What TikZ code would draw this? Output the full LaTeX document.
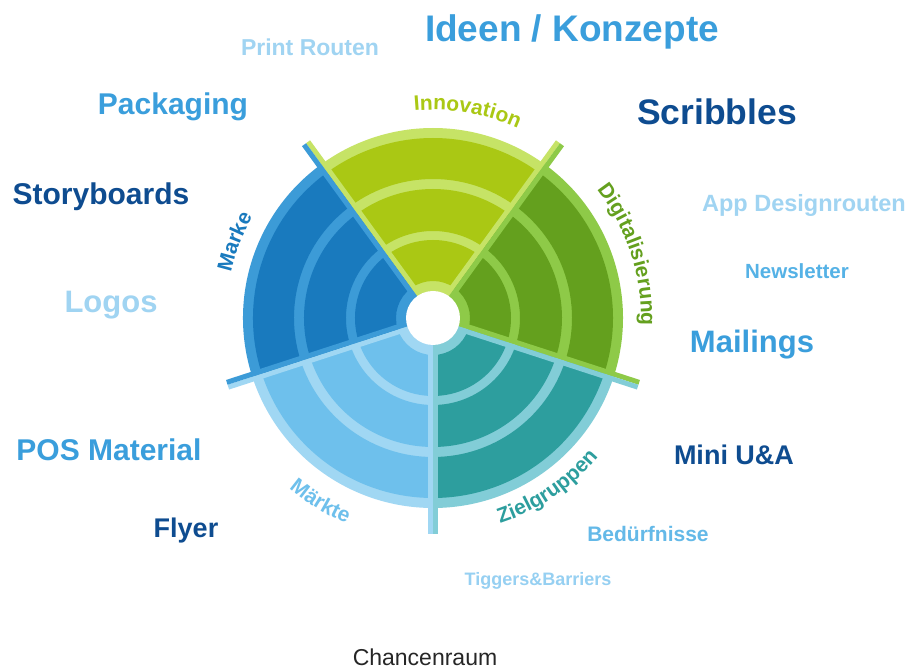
\documentclass[tikz,border=0pt]{standalone}
\usepackage{fontspec}
\setmainfont{Liberation Sans}
\usetikzlibrary{decorations.text}
\definecolor{innoD}{RGB}{170,200,20}
\definecolor{innoL}{RGB}{198,227,102}
\definecolor{digiD}{RGB}{100,160,30}
\definecolor{digiL}{RGB}{142,202,72}
\definecolor{zielD}{RGB}{45,158,158}
\definecolor{zielL}{RGB}{130,205,215}
\definecolor{maerD}{RGB}{110,192,236}
\definecolor{maerL}{RGB}{160,215,243}
\definecolor{markD}{RGB}{25,122,190}
\definecolor{markL}{RGB}{60,155,215}
\definecolor{tMid}{RGB}{58,158,220}
\definecolor{tDark}{RGB}{14,76,144}
\definecolor{tLight}{RGB}{160,212,242}
\definecolor{tNews}{RGB}{85,178,230}
\definecolor{tBed}{RGB}{100,185,232}
\definecolor{tTig}{RGB}{150,208,242}
\newcommand\sectorpie[4]{%
  \fill[#3] (0,0) -- (#1:190) arc[start angle=#1, end angle=#2, radius=190] -- cycle;
  \foreach \ri/\ro in {37/78, 87/129, 139/180}{%
    \fill[#4] (#1:\ri) arc[start angle=#1, end angle=#2, radius=\ri] -- (#2:\ro) arc[start angle=#2, end angle=#1, radius=\ro] -- cycle;
  }%
}
\newcommand\sectorstrips[3]{%
  \begin{scope}[rotate=#1]\fill[#3] (27,0) rectangle (216,5);\end{scope}%
  \begin{scope}[rotate=#2]\fill[#3] (27,-5) rectangle (216,0);\end{scope}%
}
\newcommand\fs[1]{\fontsize{#1}{#1}\selectfont}
\begin{document}
\begin{tikzpicture}[x=1pt,y=1pt,
  lbl/.style={anchor=base, inner sep=0pt, font=\bfseries},
  arclbl/.style={decoration={text along path, text align=center, text={#1}}, postaction={decorate}}]
\useasboundingbox (-433,-351) rectangle (478,318);
\fill[white] (-433,-351) rectangle (478,318);
% sectors
\sectorpie{54}{126}{innoL}{innoD}
\sectorpie{-18}{54}{digiL}{digiD}
\sectorpie{-90}{-18}{zielL}{zielD}
\sectorpie{198}{270}{maerL}{maerD}
\sectorpie{126}{198}{markL}{markD}
\sectorstrips{54}{126}{innoL}
\sectorstrips{-18}{54}{digiL}
\sectorstrips{-90}{-18}{zielL}
\sectorstrips{198}{270}{maerL}
\sectorstrips{126}{198}{markL}
\fill[white] (0,0) circle[radius=27];
% curved labels
\path[arclbl={|\fs{21}\bfseries\color{innoD}|Innovation}] (120.5:208) arc[start angle=120.5, end angle=40.5, radius=208];
\path[arclbl={|\fs{21}\bfseries\color{digiD}|Digitalisierung}] (58:208) arc[start angle=58, end angle=-22, radius=208];
\path[arclbl={|\fs{21}\bfseries\color{markD}|Marke}] (199:207) arc[start angle=199, end angle=119, radius=207];
\path[arclbl={|\fs{21}\bfseries\color{zielD}|Zielgruppen}] (-96:216) arc[start angle=-96, end angle=-16, radius=216];
\path[arclbl={|\fs{21}\bfseries\color{maerD}|Märkte}] (198.5:223) arc[start angle=198.5, end angle=278.5, radius=223];
% word labels
\node[lbl, text=tMid, font=\bfseries\fs{37}] (ideen) at (139,276) {Ideen / Konzepte};
\node[lbl, text=tLight, font=\bfseries\fs{23}] (print) at (-123,262) {Print Routen};
\node[lbl, text=tMid, font=\bfseries\fs{30}] (pack) at (-260,203) {Packaging};
\node[lbl, text=tDark, font=\bfseries\fs{30}] (story) at (-332,113) {Storyboards};
\node[lbl, text=tDark, font=\bfseries\fs{35.5}] (scrib) at (284,193) {Scribbles};
\node[lbl, text=tLight, font=\bfseries\fs{23.5}] (app) at (371,106) {App Designrouten};
\node[lbl, text=tNews, font=\bfseries\fs{20.5}] (news) at (364,39) {Newsletter};
\node[lbl, text=tLight, font=\bfseries\fs{31}] (logos) at (-322,5) {Logos};
\node[lbl, text=tMid, font=\bfseries\fs{31}] (mail) at (319,-35) {Mailings};
\node[lbl, text=tMid, font=\bfseries\fs{30}] (pos) at (-324,-143) {POS Material};
\node[lbl, text=tDark, font=\bfseries\fs{27}] (flyer) at (-247,-219) {Flyer};
\node[lbl, text=tDark, font=\bfseries\fs{27}] (mini) at (301,-147) {Mini U\&A};
\node[lbl, text=tBed, font=\bfseries\fs{21}] (bed) at (215,-223) {Bedürfnisse};
\node[lbl, text=tTig, font=\bfseries\fs{18}] (tig) at (105,-267) {Tiggers\&Barriers};
\node[lbl, text=black!85, font=\fs{23}] (chance) at (-8,-347) {Chancenraum};
\end{tikzpicture}
\end{document}
